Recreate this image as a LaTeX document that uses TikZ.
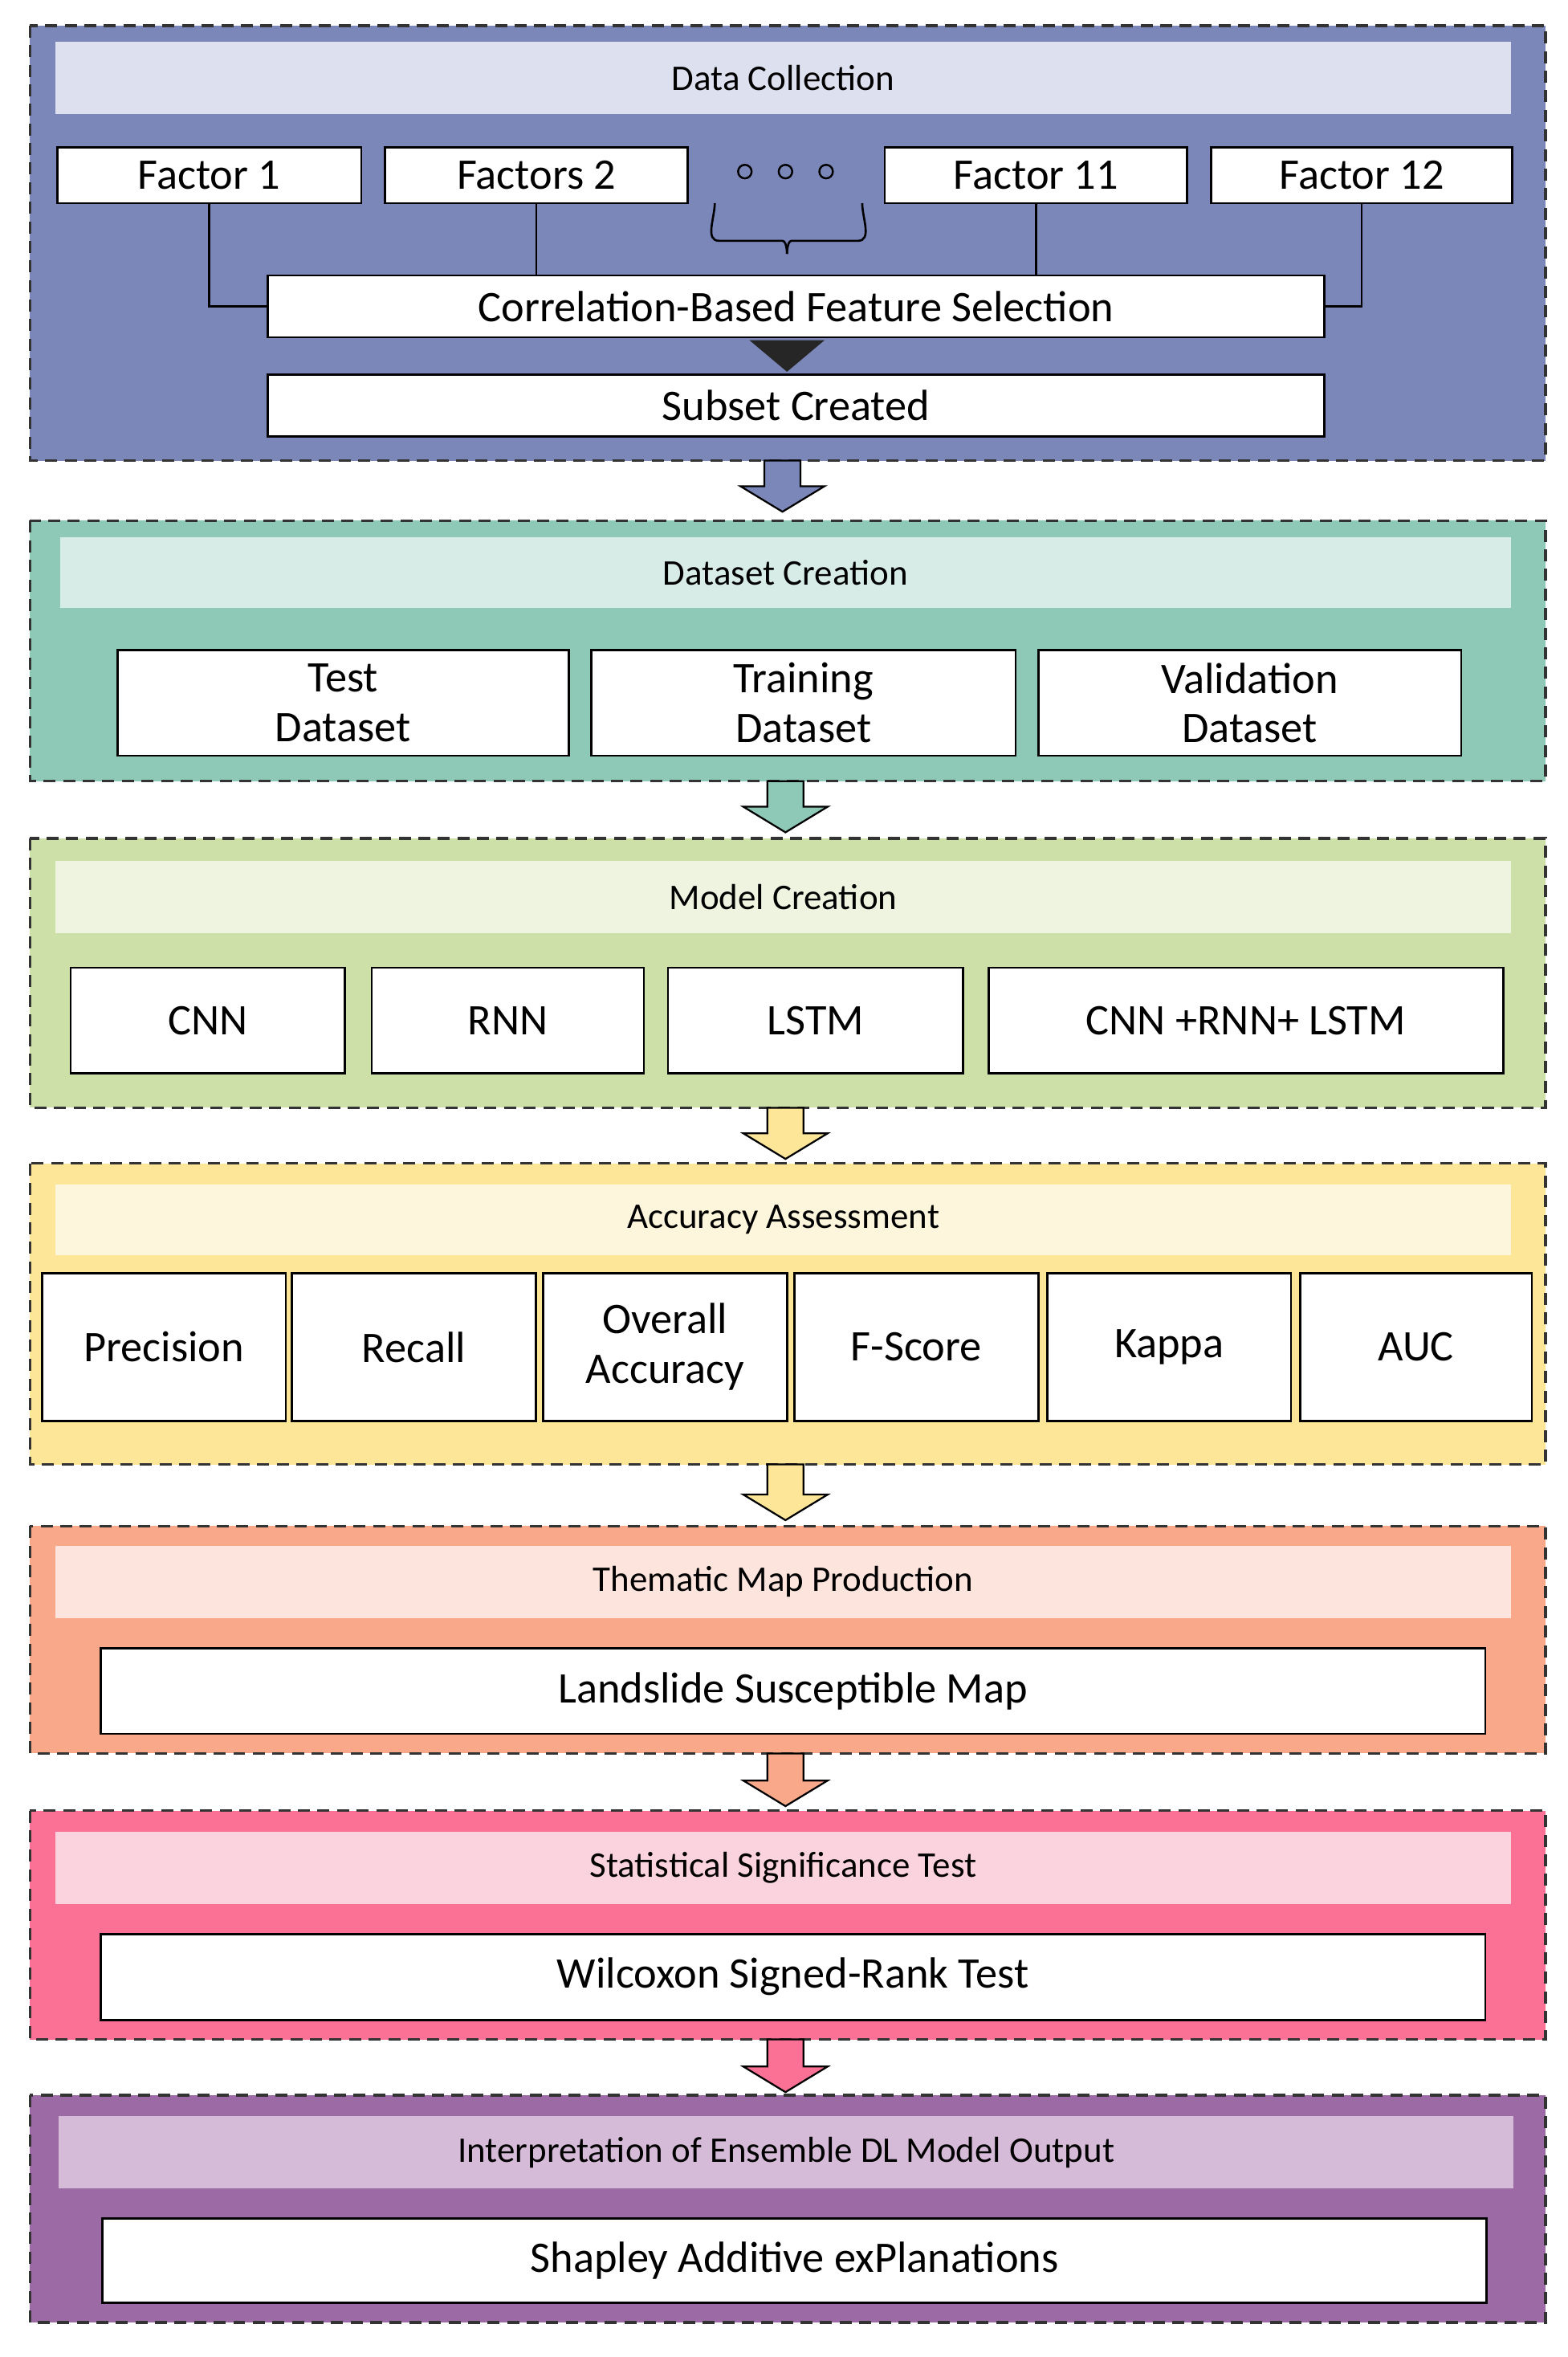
\documentclass[tikz,border=0pt]{standalone}
\usepackage{fontspec}
\setmainfont{Carlito}
\begin{document}
\begin{tikzpicture}[x=1pt,y=-1pt,
 panel/.style={draw=black!80,dash pattern=on 8pt off 5pt,line width=1.8pt},
 box/.style={draw=black,line width=1.4pt,fill=white,font=\fontsize{29}{33}\selectfont,align=center,inner sep=0pt},
 hdr/.style={inner sep=0pt,font=\fontsize{24}{28}\selectfont},
 conn/.style={line width=1.4pt}]
\useasboundingbox (0,0) rectangle (1042,1566);
\definecolor{c1}{HTML}{7A87B8}\definecolor{h1}{HTML}{DDE0EE}
\definecolor{c2}{HTML}{8EC9B8}\definecolor{h2}{HTML}{D7ECE6}
\definecolor{c3}{HTML}{CDE0A8}\definecolor{h3}{HTML}{EEF4E0}
\definecolor{c4}{HTML}{FDE698}\definecolor{h4}{HTML}{FEF6DC}
\definecolor{c5}{HTML}{F9A98A}\definecolor{h5}{HTML}{FDE4DC}
\definecolor{c6}{HTML}{FB7095}\definecolor{h6}{HTML}{FBD3DE}
\definecolor{c7}{HTML}{9C6AA5}\definecolor{h7}{HTML}{D6BBD8}
\newcommand{\bx}[6]{\node[box,minimum width=#4-#2,minimum height=#5-#3] (#1) at ({(#2+#4)/2},{(#3+#5)/2}) {#6};}
\newcommand{\hd}[7]{\fill[#6] (#2,#3) rectangle (#4,#5); \node[hdr] (#1) at ({(#2+#4)/2},{(#3+#5)/2}) {#7};}
\newcommand{\pn}[5]{\filldraw[panel,fill=#5] (#2,#3) rectangle (#4,#1);}
\newcommand{\barrow}[4]{\draw[line width=1.2pt,fill=#4,join=miter]
 (#1-12,#2) -- (#1+12,#2) -- (#1+12,#3-17) -- (#1+28,#3-17) -- (#1,#3) -- (#1-28,#3-17) -- (#1-12,#3-17) -- cycle;}
% panel 1
\pn{306}{20}{17}{1027}{c1}
\hd{h1}{37}{28}{1004}{76}{h1}{Data Collection}
\bx{f1}{38}{98}{240}{135}{Factor 1}
\bx{f2}{256}{98}{457}{135}{Factors 2}
\bx{f11}{588}{98}{789}{135}{Factor 11}
\bx{f12}{805}{98}{1005}{135}{Factor 12}
\foreach \i/\x in {a/495,b/522,c/549}{\node[circle,draw,line width=1.3pt,inner sep=0pt,minimum size=9pt] (d\i) at (\x,114) {};}
\coordinate (bl) at (475,135); \coordinate (br) at (573,135);
\bx{cfs}{178}{183}{880}{224}{Correlation-Based Feature Selection}
\bx{sub}{178}{249}{880}{290}{Subset Created}
\draw[conn] (bl) to[out=-90,in=180] (478,160) -- (520,160) to[out=0,in=-90] (523,168);
\draw[conn] (br) to[out=-90,in=0] (570,160) -- (526,160) to[out=180,in=-90] (523,168);
\draw[conn] (f1.south) |- (cfs.west);
\draw[conn] (f2.south) -- (f2.south |- cfs.north);
\draw[conn] (f11.south) -- (f11.south |- cfs.north);
\draw[conn] (f12.south) |- (cfs.east);
\fill[black!85] (498,226) -- (548,226) -- (523,247) -- cycle;
% panel 2
\pn{519}{20}{346}{1027}{c2}
\hd{h2}{40}{357}{1004}{404}{h2}{Dataset Creation}
\bx{t1}{78}{432}{378}{502}{Test\\Dataset}
\bx{t2}{393}{432}{675}{502}{Training\\Dataset}
\bx{t3}{690}{432}{971}{502}{Validation\\Dataset}
% panel 3
\pn{736}{20}{557}{1027}{c3}
\hd{h3}{37}{572}{1004}{620}{h3}{Model Creation}
\bx{m1}{47}{643}{229}{713}{CNN}
\bx{m2}{247}{643}{428}{713}{RNN}
\bx{m3}{444}{643}{640}{713}{LSTM}
\bx{m4}{657}{643}{999}{713}{CNN +RNN+ LSTM}
% panel 4
\pn{973}{20}{773}{1027}{c4}
\hd{h4}{37}{787}{1004}{834}{h4}{Accuracy Assessment}
\bx{a1}{28}{846}{190}{944}{Precision}
\bx{a2}{194}{846}{356}{944}{Recall}
\bx{a3}{361}{846}{523}{944}{Overall\\Accuracy}
\bx{a4}{528}{846}{690}{944}{F-Score}
\bx{a5}{696}{846}{858}{944}{Kappa}
\bx{a6}{864}{846}{1018}{944}{AUC}
% panel 5
\pn{1165}{20}{1014}{1027}{c5}
\hd{h5}{37}{1027}{1004}{1075}{h5}{Thematic Map Production}
\bx{l1}{67}{1095}{987}{1152}{Landslide Susceptible Map}
% panel 6
\pn{1355}{20}{1203}{1027}{c6}
\hd{h6}{37}{1217}{1004}{1265}{h6}{Statistical Significance Test}
\bx{w1}{67}{1285}{987}{1342}{Wilcoxon Signed-Rank Test}
% panel 7
\pn{1543}{20}{1392}{1027}{c7}
\hd{h7}{39}{1406}{1006}{1454}{h7}{Interpretation of Ensemble DL Model Output}
\bx{s1}{68}{1474}{988}{1530}{Shapley Additive exPlanations}
% arrows
\barrow{520}{306}{340}{c1}
\barrow{522}{519}{553}{c2}
\barrow{522}{736}{770}{c4}
\barrow{522}{973}{1010}{c4}
\barrow{522}{1165}{1200}{c5}
\barrow{522}{1355}{1390}{c6}
\end{tikzpicture}
\end{document}
